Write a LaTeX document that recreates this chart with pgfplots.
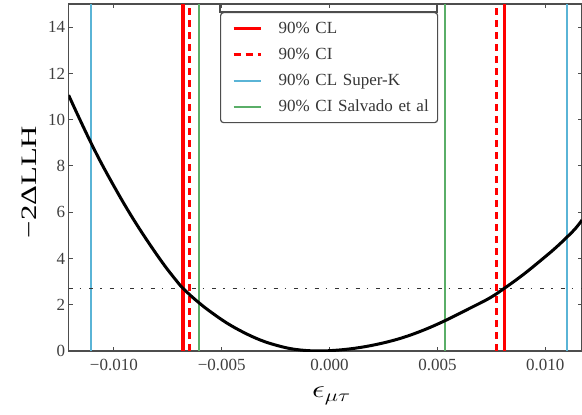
\documentclass[border=0pt]{standalone}
\usepackage{fontspec}
\usepackage{graphicx}
\usepackage{pgfplots}
\pgfplotsset{compat=1.18}
\setmainfont{Liberation Serif}

\definecolor{clred}{HTML}{FF0000}
\definecolor{skcyan}{HTML}{5AB4D6}
\definecolor{salgreen}{HTML}{5AAE68}
\definecolor{spine}{HTML}{4D4D4D}
\definecolor{refline}{HTML}{333333}

\begin{document}
\begin{tikzpicture}
\begin{axis}[
  name=ax,
  scale only axis,
  width=513.4pt, height=347pt,
  xmin=-0.0121, xmax=0.0117,
  ymin=0, ymax=15,
  scaled x ticks=false,
  xtick={-0.01,-0.005,0,0.005,0.01},
  xticklabels={−0.010,−0.005,0.000,0.005,0.010},
  ytick={0,2,...,14},
  /pgf/number format/assume math mode=true,
  tick align=inside,
  major tick length=4.5pt,
  every tick/.style={spine, line width=1pt},
  axis line style={spine, line width=1.3pt},
  ticklabel style={font=\fontsize{17}{20}\selectfont, text=spine!80!black},
  xticklabel style={yshift=-5pt},
  xlabel={\scalebox{1.3}[1]{$\epsilon_{\mu\tau}$}},
  xlabel style={at={(axis description cs:0.512,-0.102)}, anchor=north, inner sep=0pt, font=\fontsize{24}{28}\selectfont},
  ylabel={\scalebox{1.4}[1]{−2ΔLLH}},
  ylabel style={at={(axis description cs:-0.077,0.487)}, anchor=center, inner sep=0pt, font=\fontsize{22}{26}\selectfont},
  legend cell align=left,
  legend style={
    at={(0.2949,0.9769)}, anchor=north west,
    draw=spine, line width=1.2pt, fill=white, rounded corners=3pt,
    inner xsep=0pt, inner ysep=3pt,
    column sep=0pt, row sep=0pt,
    font=\fontsize{17}{20}\selectfont,
    cells={anchor=west},
    nodes={inner sep=0pt, minimum height=26pt, text width=159pt, align=left, text depth=0.2em, text=spine!70!black},
  },
  legend image code/.code={
    \draw[#1] (13pt,0pt) -- (40pt,0pt);
    \path[draw=none] (0pt,0pt) -- (58pt,0pt);
  },
]
% 90% CL of this analysis
\addplot[clred, line width=3.5pt] coordinates {(-0.0068,0) (-0.0068,15)};
\addlegendentry{90\% CL}
% 90% credible interval
\addplot[clred, line width=3.3pt, dash pattern=on 7pt off 5pt] coordinates {(-0.00648,0) (-0.00648,15)};
\addlegendentry{90\% CI}
% Super-K limit
\addplot[skcyan, line width=1.9pt] coordinates {(-0.01108,0) (-0.01108,15)};
\addlegendentry{90\% CL Super-K}
% Salvado et al interval
\addplot[salgreen, line width=1.9pt] coordinates {(-0.00605,0) (-0.00605,15)};
\addlegendentry{90\% CI Salvado et al}

\addplot[clred, line width=3.5pt, forget plot] coordinates {(0.0081,0) (0.0081,15)};
\addplot[clred, line width=3.3pt, dash pattern=on 7pt off 5pt, forget plot] coordinates {(0.00775,0) (0.00775,15)};
\addplot[skcyan, line width=1.9pt, forget plot] coordinates {(0.01099,0) (0.01099,15)};
\addplot[salgreen, line width=1.9pt, forget plot] coordinates {(0.00535,0) (0.00535,15)};

% 90% threshold for one degree of freedom
\addplot[refline, line width=1.2pt, dash pattern=on 4pt off 7pt on 1.5pt off 8pt, forget plot]
  coordinates {(-0.0121,2.706) (0.0117,2.706)};

% likelihood profile
\addplot[black, line width=3pt, smooth, tension=0.6, forget plot] coordinates {
  (-0.0121,11.06) (-0.0116,10.05) (-0.0111,9.07) (-0.0106,8.15) (-0.0100,7.13)
  (-0.0094,6.16) (-0.0088,5.26) (-0.0082,4.42) (-0.0076,3.63) (-0.0070,2.92)
  (-0.0068,2.71) (-0.0064,2.36) (-0.00605,2.08) (-0.0056,1.75) (-0.0048,1.23)
  (-0.0040,0.81) (-0.0032,0.47) (-0.0024,0.23) (-0.0016,0.07) (-0.0006,0.0)
  (0.0004,0.04) (0.0014,0.15) (0.0024,0.33) (0.0034,0.58) (0.0044,0.92)
  (0.00537,1.32) (0.0064,1.80) (0.0074,2.28) (0.0081,2.71) (0.0090,3.32)
  (0.0100,4.08) (0.0105,4.48) (0.0110,4.92) (0.0114,5.30) (0.0117,5.66)
};

% frame strip above the legend box
\draw[spine, line width=1.2pt] (rel axis cs:0.2949,0.9769) rectangle (rel axis cs:0.7176,1);
\end{axis}
\pgfresetboundingbox
\path ([shift={(-68.6pt,-63pt)}]ax.south west) rectangle ([shift={(0pt,4pt)}]ax.north east);
\end{tikzpicture}
\end{document}
